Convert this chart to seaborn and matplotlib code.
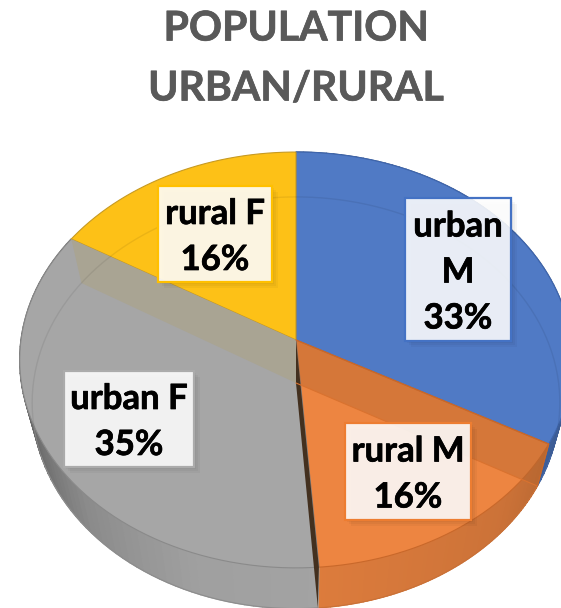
import numpy as np
import matplotlib

matplotlib.use("Agg")
import matplotlib.pyplot as plt
import matplotlib.patheffects as pe
import seaborn as sns
from matplotlib.patches import Rectangle
from matplotlib.path import Path
from matplotlib.transforms import Affine2D, Transform

# slices, clockwise from 12 o'clock
CATEGORIES = ["urban M", "rural M", "urban F", "rural F"]
SHARES = [33, 15.8, 34.8, 16.4]
BOX_TEXT = ["urban\nM\n33%", "rural M\n16%", "urban F\n35%", "rural F\n16%"]
TITLE = "POPULATION\nURBAN/RURAL"

COLORS = ["#507AC5", "#ED8541", "#A6A6A6", "#FDC117"]
RIMS = ["#3F66AD", "#C9682A", "#8A8A8A", "#C79A22"]
BOX_EDGES = ["#4472C4", "#ED7D31", "#ABABAB", "#FFC000"]

# label boxes in pixels: left, top, right, bottom
BOXES = [(405, 198, 511, 341), (345, 423, 471, 520), (64, 371, 194, 467), (158, 186, 272, 282)]

# disc perspective, in pixels
CX, CY = 296, 340
AX_R, AY_R, PERSP = 275, 206, 0.096
BASE_X, BASE_Y, BASE_DY = 0.955, 0.99, 43


def project(x, y, base=False):
    d = 1 + PERSP * y
    px = AX_R * x / d
    py = AY_R * y / d
    if base:
        return CX + BASE_X * px, CY + BASE_DY - BASE_Y * py
    return CX + px, CY - py


class Tilt(Transform):
    input_dims = 2
    output_dims = 2

    def transform_non_affine(self, xy):
        xy = np.asarray(xy)
        return np.column_stack(project(xy[:, 0], xy[:, 1]))

    def transform_path_non_affine(self, path):
        # flatten curves first, a bezier does not survive the perspective
        big = path.transformed(Affine2D().scale(400)).to_polygons(closed_only=False)
        pts = np.vstack(big) / 400
        pts = np.vstack([pts, pts[:1]])
        return Path(self.transform_non_affine(pts))


def rim(theta, base=False):
    t = np.radians(theta)
    return project(np.cos(t), np.sin(t), base)


def wall_color(col, shade):
    return tuple(np.clip(np.array(matplotlib.colors.to_rgb(col)) * shade, 0, 1))


sns.set_theme(style="white")
plt.rcParams["font.family"] = ["Lato", "DejaVu Sans"]
plt.rcParams["font.weight"] = "bold"

fig = plt.figure(figsize=(5.61, 6.08), dpi=100)
ax = fig.add_axes([0, 0, 1, 1])

wedges, _ = ax.pie(
    SHARES,
    colors=sns.color_palette(COLORS),
    startangle=90,
    counterclock=False,
    radius=1,
)
ax.set_aspect("auto")
ax.set_xlim(0, 561)
ax.set_ylim(608, 0)
ax.axis("off")

tilt = Tilt() + ax.transData
for w, edge in zip(wedges, RIMS):
    w.set_transform(tilt)
    w.set_edgecolor(edge)
    w.set_linewidth(0.8)
    w.set_zorder(3)

# outer wall, cut in thin strips so it can shade round the disc
# clockwise angle from the top -> brightness
SHADE_AT = {
    0: ([90, 119], [0.72, 0.78]),
    1: ([119, 135, 176], [0.80, 0.86, 0.93]),
    2: ([176, 200, 225, 250, 265, 302], [0.98, 0.96, 0.84, 0.62, 0.55, 0.55]),
}
for i, w in enumerate(wedges[:3]):
    angles = np.linspace(w.theta1, w.theta2, 70)
    for a, b in zip(angles[:-1], angles[1:]):
        clock = (90 - 0.5 * (a + b)) % 360
        shade = np.interp(clock, *SHADE_AT[i])
        xa, ya = rim(a)
        xb, yb = rim(b)
        xc, yc = rim(b, True)
        xd, yd = rim(a, True)
        c = wall_color(COLORS[i], shade)
        ax.fill([xa, xb, xc, xd], [ya, yb, yc, yd], color=c, lw=1, zorder=2)
    base_x, base_y = rim(angles, True)
    ax.plot(base_x, base_y, color=wall_color(COLORS[i], 0.85), lw=0.8, zorder=2)


def inner_wall(theta, color, alpha=1.0, zorder=4):
    x1, y1 = rim(theta)
    x2, y2 = rim(theta, True)
    x3, y3 = project(0.0, 0.0, True)
    ax.fill([CX, x1, x2, x3], [CY, y1, y2, y3], color=color, alpha=alpha, lw=0, zorder=zorder)


# cut faces showing through the translucent top; wedge theta1 is the clockwise end
inner_wall(wedges[0].theta1, "#B5652F", alpha=0.42)
inner_wall(wedges[2].theta1, "#A9A493")
inner_wall(wedges[1].theta1, "#43301F")

# back of the base ring, faint through the top
ring = np.linspace(-20, 200, 200)
ring_x, ring_y = rim(ring, True)
ax.plot(ring_x, ring_y, color="black", alpha=0.07, lw=1, zorder=5)

# edges of the band on the cuts
theta = wedges[0].theta1
x1, y1 = rim(theta)
x2, y2 = rim(theta, True)
x3, y3 = project(0.0, 0.0, True)
ax.plot([x3, x2], [y3, y2], color="#D9722F", lw=0.8, zorder=5)
ax.plot([CX, x1], [CY, y1], color="#C9682A", lw=0.9, zorder=5)
ax.plot([x1, x2], [y1, y2], color="#C9682A", lw=0.8, zorder=5)

heavy = [pe.withStroke(linewidth=0.5, foreground="black")]
for txt, box, edge in zip(BOX_TEXT, BOXES, BOX_EDGES):
    left, top, right, bottom = box
    for off in (7, 5, 3):
        ax.add_patch(Rectangle((left + off - 1, top + off - 1), right - left, bottom - top,
                               facecolor="black", alpha=0.035, lw=0, zorder=6))
    ax.add_patch(Rectangle((left, top), right - left, bottom - top,
                           facecolor=(1, 1, 1, 0.88), edgecolor=edge, lw=1.6, zorder=7))
    lines = txt.split("\n")
    mid = 0.5 * (top + bottom) + 3
    for n, line in enumerate(lines):
        ax.text(0.5 * (left + right), mid + (n - (len(lines) - 1) / 2) * 46, line,
                ha="center", va="center", fontsize=25, fontweight="bold",
                color="black", zorder=8, path_effects=heavy)

title_heavy = [pe.withStroke(linewidth=0.5, foreground="#595959")]
for n, line in enumerate(TITLE.split("\n")):
    ax.text(296, 29 + n * 60, line, ha="center", va="center", fontsize=29.5,
            fontweight="bold", color="#595959", zorder=8, path_effects=title_heavy)

fig.savefig("out.png", dpi=100)
